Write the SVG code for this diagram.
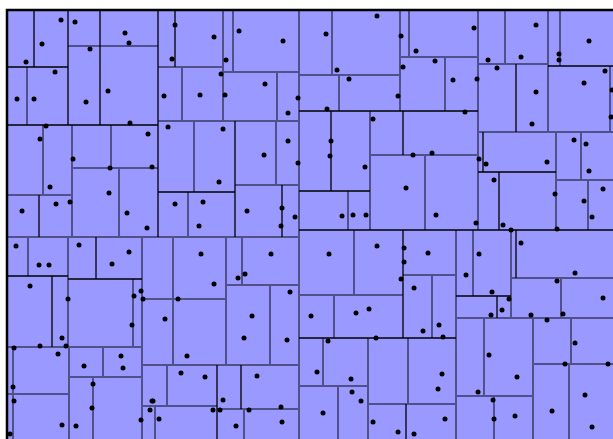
<svg xmlns="http://www.w3.org/2000/svg" width="613" height="439" viewBox="0 0 613 439">
<style>
.g{fill:none;stroke:#50508a;stroke-width:2}
.b{fill:none;stroke:#000;stroke-width:1.3}
.f{fill:none;stroke:#000;stroke-width:2.5}
.p circle{fill:#000}
</style>
<rect x="7" y="10" width="606" height="429" fill="#9999ff"/>
<g id="partitions">
<path class="g" d="M299,10V439 M68,46H158 M27,67V125 M158,67H223 M223,10V121 M233,10V72 M223,72H299 M182,67V121 M158,121H299 M277,72V121 M194,121V192 M276,121V185 M188,192V237 M235,185H299 M7,237H299 M43,125V195 M7,195H72 M72,125V237 M72,168H158 M119,168V237 M111,125V168
M332,10V75 M299,75H400 M400,10V111 M409,10V57 M400,57H478 M339,75V111 M445,57V111 M478,10V230 M505,10V64 M478,64H548 M548,10V132 M560,10V66 M478,132H613 M610,66V132
M370,111V230 M348,191V230 M370,155H478 M425,155V230 M556,132V230 M581,132V180 M556,180H613 M588,180V230
M354,230V295 M299,295H403 M334,295V338 M403,275H456 M432,275V338 M323,338V386 M299,386H368 M368,338V439 M338,386V439 M408,338V404 M368,404H456 M456,230V439
M473,230V296 M511,230V318 M511,278H613 M561,278V318 M456,318H613 M484,318V396 M456,396H533 M494,396V439 M533,318V439 M533,364H613 M571,318V364 M569,364V439
M28,237V276 M68,237V347 M133,279V347 M7,347H142 M13,347V439 M7,394H69 M69,347V439 M103,347V377 M69,377H142 M93,377V439 M142,237V439
M173,237V365 M142,299H226 M226,237V365 M226,285H299 M242,237V285 M270,285V365 M142,365H299 M167,365V406 M142,406H217 M155,406V439 M217,409H299 M244,409V439"/>
<path class="b" d="M7,125H158 M158,10V237 M34,10V67 M68,10V125 M7,67H68 M100,10V125 M175,10V67 M235,121V237 M158,192H235 M282,185V237 M39,195V237
M299,111H478 M548,66H613 M516,64V132 M331,111V191 M299,191H370 M403,111V155 M299,230H613 M483,132V172 M478,172H556 M499,172V230
M403,230V338 M299,338H456 M406,404V439 M456,296H511 M497,296V318 M516,230V278
M7,276H68 M96,237V279 M68,279H142 M52,276V347 M217,365V439 M241,365V409"/>
<path class="f" d="M7,439V10H613"/>
</g>
<g id="points" class="p">
<circle cx="61" cy="20" r="2.5"/><circle cx="75" cy="22" r="2.5"/><circle cx="125" cy="33" r="2.5"/><circle cx="129" cy="43" r="2.5"/><circle cx="42" cy="44" r="2.5"/><circle cx="90" cy="49" r="2.5"/><circle cx="26" cy="62" r="2.5"/><circle cx="55" cy="72" r="2.5"/><circle cx="108" cy="91" r="2.5"/><circle cx="17" cy="99" r="2.5"/><circle cx="34" cy="99" r="2.5"/><circle cx="86" cy="102" r="2.5"/><circle cx="130" cy="123" r="2.5"/><circle cx="46" cy="126" r="2.5"/><circle cx="148" cy="134" r="2.5"/><circle cx="40" cy="139" r="2.5"/>
<circle cx="175" cy="25" r="2.5"/><circle cx="214" cy="37" r="2.5"/><circle cx="239" cy="31" r="2.5"/><circle cx="283" cy="41" r="2.5"/><circle cx="172" cy="59" r="2.5"/><circle cx="226" cy="60" r="2.5"/><circle cx="221" cy="74" r="2.5"/><circle cx="265" cy="84" r="2.5"/><circle cx="164" cy="96" r="2.5"/><circle cx="200" cy="95" r="2.5"/><circle cx="225" cy="95" r="2.5"/><circle cx="298" cy="98" r="2.5"/><circle cx="288" cy="113" r="2.5"/><circle cx="168" cy="127" r="2.5"/><circle cx="223" cy="129" r="2.5"/><circle cx="288" cy="141" r="2.5"/>
<circle cx="377" cy="16" r="2.5"/><circle cx="326" cy="34" r="2.5"/><circle cx="401" cy="36" r="2.5"/><circle cx="416" cy="51" r="2.5"/><circle cx="435" cy="61" r="2.5"/><circle cx="403" cy="67" r="2.5"/><circle cx="337" cy="70" r="2.5"/><circle cx="349" cy="79" r="2.5"/><circle cx="453" cy="80" r="2.5"/><circle cx="398" cy="96" r="2.5"/><circle cx="327" cy="109" r="2.5"/><circle cx="373" cy="119" r="2.5"/><circle cx="331" cy="141" r="2.5"/>
<circle cx="474" cy="28" r="2.5"/><circle cx="536" cy="25" r="2.5"/><circle cx="589" cy="41" r="2.5"/><circle cx="559" cy="54" r="2.5"/><circle cx="559" cy="60" r="2.5"/><circle cx="521" cy="57" r="2.5"/><circle cx="488" cy="60" r="2.5"/><circle cx="497" cy="68" r="2.5"/><circle cx="605" cy="71" r="2.5"/><circle cx="584" cy="83" r="2.5"/><circle cx="477" cy="79" r="2.5"/><circle cx="536" cy="92" r="2.5"/><circle cx="612" cy="90" r="2.5"/><circle cx="465" cy="112" r="2.5"/><circle cx="532" cy="124" r="2.5"/><circle cx="611" cy="117" r="2.5"/><circle cx="574" cy="140" r="2.5"/><circle cx="586" cy="144" r="2.5"/>
<circle cx="73" cy="159" r="2.5"/><circle cx="110" cy="168" r="2.5"/><circle cx="152" cy="167" r="2.5"/><circle cx="50" cy="187" r="2.5"/><circle cx="109" cy="193" r="2.5"/><circle cx="22" cy="211" r="2.5"/><circle cx="56" cy="204" r="2.5"/><circle cx="70" cy="202" r="2.5"/><circle cx="127" cy="213" r="2.5"/><circle cx="147" cy="228" r="2.5"/><circle cx="16" cy="246" r="2.5"/><circle cx="79" cy="245" r="2.5"/><circle cx="129" cy="252" r="2.5"/><circle cx="39" cy="265" r="2.5"/><circle cx="49" cy="265" r="2.5"/><circle cx="112" cy="264" r="2.5"/><circle cx="30" cy="286" r="2.5"/><circle cx="141" cy="291" r="2.5"/>
<circle cx="264" cy="155" r="2.5"/><circle cx="298" cy="163" r="2.5"/><circle cx="219" cy="182" r="2.5"/><circle cx="175" cy="204" r="2.5"/><circle cx="203" cy="202" r="2.5"/><circle cx="199" cy="226" r="2.5"/><circle cx="247" cy="211" r="2.5"/><circle cx="282" cy="208" r="2.5"/><circle cx="295" cy="217" r="2.5"/><circle cx="281" cy="226" r="2.5"/><circle cx="201" cy="254" r="2.5"/><circle cx="271" cy="254" r="2.5"/><circle cx="245" cy="274" r="2.5"/><circle cx="238" cy="278" r="2.5"/><circle cx="214" cy="284" r="2.5"/><circle cx="290" cy="292" r="2.5"/>
<circle cx="330" cy="156" r="2.5"/><circle cx="413" cy="155" r="2.5"/><circle cx="432" cy="153" r="2.5"/><circle cx="365" cy="167" r="2.5"/><circle cx="406" cy="188" r="2.5"/><circle cx="342" cy="216" r="2.5"/><circle cx="353" cy="215" r="2.5"/><circle cx="366" cy="215" r="2.5"/><circle cx="436" cy="215" r="2.5"/><circle cx="329" cy="254" r="2.5"/><circle cx="377" cy="246" r="2.5"/><circle cx="404" cy="248" r="2.5"/><circle cx="404" cy="262" r="2.5"/><circle cx="428" cy="253" r="2.5"/><circle cx="401" cy="279" r="2.5"/><circle cx="414" cy="288" r="2.5"/>
<circle cx="479" cy="159" r="2.5"/><circle cx="486" cy="164" r="2.5"/><circle cx="547" cy="162" r="2.5"/><circle cx="589" cy="171" r="2.5"/><circle cx="494" cy="180" r="2.5"/><circle cx="603" cy="189" r="2.5"/><circle cx="555" cy="194" r="2.5"/><circle cx="584" cy="201" r="2.5"/><circle cx="592" cy="217" r="2.5"/><circle cx="476" cy="223" r="2.5"/><circle cx="503" cy="225" r="2.5"/><circle cx="511" cy="230" r="2.5"/><circle cx="557" cy="229" r="2.5"/><circle cx="521" cy="243" r="2.5"/><circle cx="479" cy="254" r="2.5"/><circle cx="575" cy="273" r="2.5"/><circle cx="466" cy="275" r="2.5"/><circle cx="557" cy="281" r="2.5"/><circle cx="492" cy="292" r="2.5"/>
<circle cx="68" cy="299" r="2.5"/><circle cx="134" cy="296" r="2.5"/><circle cx="143" cy="299" r="2.5"/><circle cx="132" cy="325" r="2.5"/><circle cx="62" cy="338" r="2.5"/><circle cx="14" cy="348" r="2.5"/><circle cx="40" cy="346" r="2.5"/><circle cx="66" cy="346" r="2.5"/><circle cx="58" cy="354" r="2.5"/><circle cx="84" cy="366" r="2.5"/><circle cx="121" cy="356" r="2.5"/><circle cx="123" cy="368" r="2.5"/><circle cx="93" cy="384" r="2.5"/><circle cx="13" cy="387" r="2.5"/><circle cx="14" cy="401" r="2.5"/><circle cx="92" cy="408" r="2.5"/><circle cx="152" cy="401" r="2.5"/><circle cx="150" cy="410" r="2.5"/><circle cx="62" cy="425" r="2.5"/><circle cx="76" cy="426" r="2.5"/><circle cx="141" cy="420" r="2.5"/><circle cx="10" cy="434" r="2.5"/>
<circle cx="178" cy="299" r="2.5"/><circle cx="165" cy="319" r="2.5"/><circle cx="252" cy="316" r="2.5"/><circle cx="244" cy="338" r="2.5"/><circle cx="187" cy="356" r="2.5"/><circle cx="287" cy="340" r="2.5"/><circle cx="181" cy="373" r="2.5"/><circle cx="205" cy="377" r="2.5"/><circle cx="257" cy="376" r="2.5"/><circle cx="153" cy="401" r="2.5"/><circle cx="223" cy="400" r="2.5"/><circle cx="213" cy="410" r="2.5"/><circle cx="220" cy="410" r="2.5"/><circle cx="249" cy="410" r="2.5"/><circle cx="281" cy="407" r="2.5"/><circle cx="159" cy="419" r="2.5"/><circle cx="236" cy="426" r="2.5"/><circle cx="282" cy="422" r="2.5"/>
<circle cx="311" cy="316" r="2.5"/><circle cx="356" cy="313" r="2.5"/><circle cx="369" cy="309" r="2.5"/><circle cx="423" cy="331" r="2.5"/><circle cx="439" cy="325" r="2.5"/><circle cx="443" cy="337" r="2.5"/><circle cx="376" cy="338" r="2.5"/><circle cx="328" cy="341" r="2.5"/><circle cx="317" cy="372" r="2.5"/><circle cx="351" cy="379" r="2.5"/><circle cx="442" cy="374" r="2.5"/><circle cx="438" cy="389" r="2.5"/><circle cx="352" cy="392" r="2.5"/><circle cx="361" cy="401" r="2.5"/><circle cx="323" cy="413" r="2.5"/><circle cx="373" cy="422" r="2.5"/><circle cx="445" cy="419" r="2.5"/><circle cx="398" cy="432" r="2.5"/><circle cx="414" cy="434" r="2.5"/>
<circle cx="603" cy="298" r="2.5"/><circle cx="509" cy="299" r="2.5"/><circle cx="502" cy="310" r="2.5"/><circle cx="491" cy="315" r="2.5"/><circle cx="531" cy="315" r="2.5"/><circle cx="563" cy="314" r="2.5"/><circle cx="547" cy="320" r="2.5"/><circle cx="575" cy="343" r="2.5"/><circle cx="489" cy="355" r="2.5"/><circle cx="565" cy="364" r="2.5"/><circle cx="608" cy="364" r="2.5"/><circle cx="517" cy="377" r="2.5"/><circle cx="585" cy="395" r="2.5"/><circle cx="478" cy="392" r="2.5"/><circle cx="493" cy="400" r="2.5"/><circle cx="552" cy="411" r="2.5"/><circle cx="494" cy="419" r="2.5"/><circle cx="515" cy="416" r="2.5"/><circle cx="592" cy="427" r="2.5"/>
</g>
</svg>
